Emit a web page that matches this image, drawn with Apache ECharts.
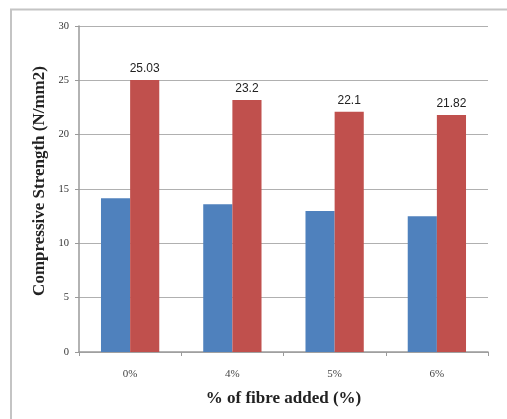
<!DOCTYPE html>
<html>
<head>
<meta charset="utf-8">
<script src="https://cdn.jsdelivr.net/npm/echarts@6/dist/echarts.min.js"></script>
<style>html,body{margin:0;padding:0;background:#fff;}#c{width:507px;height:419px;}</style>
</head>
<body>
<div id="c"></div>
<script>
var categories = ['0%', '4%', '5%', '6%'];
var seriesA = [14.14, 13.6, 12.98, 12.5];
var seriesB = [25.03, 23.2, 22.1, 21.82];
var yTicks = [0, 5, 10, 15, 20, 25, 30];
var yTitle = 'Compressive Strength (N/mm2)';
var xTitle = '% of fibre added (%)';

var chart = echarts.init(document.getElementById('c'), null, {renderer: 'canvas'});
chart.setOption({
  animation: false,
  backgroundColor: '#fff',
  graphic: [
    {type: 'polyline', shape: {points: [[11, 430], [11, 9.5], [520, 9.5]]}, style: {stroke: '#c4c4c4', lineWidth: 2, fill: null}, z: -1},
    {type: 'text', x: 40, y: 181, rotation: Math.PI / 2,
      style: {text: yTitle, fontFamily: 'Liberation Serif', fontWeight: 'bold', fontSize: 17, fill: '#222', align: 'center', verticalAlign: 'middle'}}
  ],
  grid: {left: 79, right: 19, top: 26, bottom: 67, containLabel: false},
  xAxis: {
    type: 'category',
    data: categories,
    name: xTitle,
    nameLocation: 'middle',
    nameGap: 38,
    nameTextStyle: {fontFamily: 'Liberation Serif', fontWeight: 'bold', fontSize: 17, color: '#222'},
    axisLine: {lineStyle: {color: '#9a9a9a', width: 1.5}},
    axisTick: {show: true, length: 4, lineStyle: {color: '#9a9a9a'}},
    axisLabel: {fontFamily: 'Liberation Serif', fontSize: 11, color: '#444', margin: 17}
  },
  yAxis: {
    type: 'value',
    min: 0, max: 30, interval: 5,
    axisLine: {show: true, lineStyle: {color: '#9a9a9a', width: 1.5}},
    axisTick: {show: true, length: 4, lineStyle: {color: '#9a9a9a'}},
    splitLine: {lineStyle: {color: '#b0b0b0', width: 1}},
    axisLabel: {fontFamily: 'Liberation Serif', fontSize: 10.5, color: '#333', margin: 10,
      formatter: function (v) { return yTicks.indexOf(v) >= 0 ? String(v) : ''; }}
  },
  series: [
    {type: 'bar', data: seriesA, barGap: '0%', barCategoryGap: '43%', itemStyle: {color: '#4F81BD'}},
    {type: 'bar', data: seriesB, barGap: '0%', barCategoryGap: '43%', itemStyle: {color: '#C0504D'},
      label: {show: true, position: 'top', distance: 5, fontFamily: 'Liberation Sans', fontSize: 12, color: '#222'}}
  ]
});
</script>
</body>
</html>
